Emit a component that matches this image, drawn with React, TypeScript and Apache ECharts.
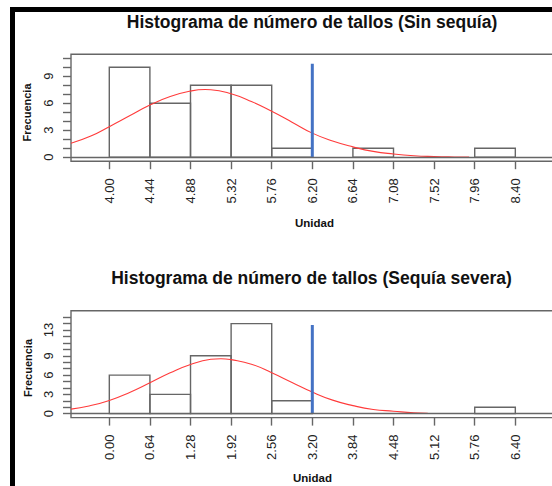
import React, { useEffect, useRef } from "react";
import * as echarts from "echarts";

// Sin sequía
const xTickLabels1 = ["4.00", "4.44", "4.88", "5.32", "5.76", "6.20", "6.64", "7.08", "7.52", "7.96", "8.40"];
const counts1 = [10, 6, 8, 8, 1, 0, 1, 0, 0, 1];
const yTicks1 = [0, 1, 2, 3, 4, 5, 6, 7, 8, 9, 10, 11];
const yTickLabels1 = [0, 3, 6, 9];
const curveX1 = [3.585, 3.8, 4.0, 4.22, 4.44, 4.66, 4.88, 5.04, 5.1, 5.32, 5.54, 5.76, 5.98, 6.2, 6.42, 6.64, 6.86, 7.08, 7.3, 7.52, 7.74, 7.9];
const curveY1 = [1.55, 2.35, 3.4, 4.6, 5.8, 6.75, 7.35, 7.52, 7.5, 7.05, 6.2, 5.1, 3.9, 2.68, 1.8, 1.15, 0.65, 0.36, 0.17, 0.08, 0.03, 0.01];
const markerX1 = 6.2;
const markerTop1 = 10.4;

// Sequía severa
const xTickLabels2 = ["0.00", "0.64", "1.28", "1.92", "2.56", "3.20", "3.84", "4.48", "5.12", "5.76", "6.40"];
const counts2 = [6, 3, 9, 14, 2, 0, 0, 0, 0, 1];
const yTicks2 = [0, 1, 2, 3, 4, 5, 6, 7, 8, 9, 10, 11, 12, 13, 14, 15];
const yTickLabels2 = [0, 3, 6, 9, 13];
const curveX2 = [-0.604, -0.32, 0.0, 0.32, 0.64, 0.96, 1.28, 1.6, 1.76, 1.92, 2.24, 2.56, 2.88, 3.2, 3.52, 3.84, 4.16, 4.48, 4.8, 5.02];
const curveY2 = [0.7, 1.2, 2.05, 3.3, 4.8, 6.35, 7.65, 8.45, 8.55, 8.4, 7.7, 6.35, 4.85, 3.35, 2.1, 1.25, 0.65, 0.38, 0.13, 0.05];
const markerX2 = 3.2;
const markerTop2 = 13.8;

const titles = [
  "Histograma de número de tallos (Sin sequía)",
  "Histograma de número de tallos (Sequía severa)",
];

const FONT = "'Liberation Sans', Arial, sans-serif";
const GRAY = "#666";
const BLUE = "#4472c4";
const RED = "#ff3b3b";

function binRows(labels: string[], counts: number[]) {
  const edges = labels.map((s) => parseFloat(s));
  return counts.map((c, i) => [edges[i], edges[i + 1], c]);
}

function panelSeries(
  idx: number,
  labels: string[],
  counts: number[],
  cx: number[],
  cy: number[],
  mx: number,
  mTop: number
) {
  return [
    {
      type: "custom",
      xAxisIndex: idx,
      yAxisIndex: idx,
      data: binRows(labels, counts),
      encode: { x: [0, 1], y: 2 },
      renderItem: (_params: any, api: any) => {
        const c = api.value(2);
        if (!c) return null;
        const p0 = api.coord([api.value(0), c]);
        const p1 = api.coord([api.value(1), 0]);
        return {
          type: "rect",
          shape: { x: p0[0], y: p0[1], width: p1[0] - p0[0], height: p1[1] - p0[1] },
          style: { fill: "none", stroke: GRAY, lineWidth: 1.4 },
        };
      },
    },
    {
      type: "line",
      xAxisIndex: idx,
      yAxisIndex: idx,
      data: cx.map((x, i) => [x, cy[i]]),
      smooth: true,
      symbol: "none",
      lineStyle: { color: RED, width: 1.1 },
      markLine: {
        silent: true,
        symbol: "none",
        label: { show: false },
        data: [{ yAxis: 0 }],
        lineStyle: { color: GRAY, width: 1.4, type: "solid" },
      },
      z: 3,
    },
    {
      type: "line",
      xAxisIndex: idx,
      yAxisIndex: idx,
      data: [
        [mx, 0],
        [mx, mTop],
      ],
      symbol: "none",
      lineStyle: { color: BLUE, width: 3 },
      z: 4,
    },
  ];
}

export default function App() {
  const ref = useRef<HTMLDivElement>(null);

  useEffect(() => {
    document.body.style.margin = "0";
    if (!ref.current) return;
    const chart = echarts.init(ref.current, undefined, { renderer: "svg" });

    const tickStyle = { color: GRAY, width: 1.4 };
    const labelStyle = { fontSize: 13, color: "#222", fontFamily: FONT };

    const xAxis = (labels: string[], min: number, max: number, gridIndex: number) => {
      const edges = labels.map((s) => parseFloat(s));
      return {
        type: "value",
        gridIndex,
        min,
        max,
        axisLine: { show: false, onZero: false },
        splitLine: { show: false },
        axisTick: { show: true, customValues: edges, length: 8, lineStyle: tickStyle },
        axisLabel: {
          ...labelStyle,
          customValues: edges,
          rotate: 90,
          margin: 17,
          formatter: (v: number) => labels[edges.indexOf(v)] ?? v.toFixed(2),
        },
      };
    };

    const yAxis = (ticks: number[], labels: number[], min: number, max: number, gridIndex: number) => ({
      type: "value",
      gridIndex,
      min,
      max,
      axisLine: { show: false, onZero: false },
      splitLine: { show: false },
      axisTick: { show: true, customValues: ticks, length: 8, lineStyle: tickStyle },
      axisLabel: { ...labelStyle, customValues: labels, rotate: 90, margin: 16 },
    });

    const textEl = (text: string, x: number, y: number, size: number, rotation = 0) => ({
      type: "text",
      x,
      y,
      rotation,
      style: {
        text,
        fill: "#111",
        font: `bold ${size}px ${FONT}`,
        textAlign: "center",
        textVerticalAlign: "middle",
      },
    });

    const gridBase = {
      left: 71,
      width: 490,
      height: 106.9,
      show: true,
      borderColor: GRAY,
      borderWidth: 1.4,
      containLabel: false,
      outerBoundsMode: "none",
    };

    chart.setOption({
      animation: false,
      backgroundColor: "#fff",
      grid: [
        { ...gridBase, top: 54.3 },
        { ...gridBase, top: 310.7 },
      ],
      xAxis: [xAxis(xTickLabels1, 3.585, 8.895, 0), xAxis(xTickLabels2, -0.604, 7.12, 1)],
      yAxis: [yAxis(yTicks1, yTickLabels1, -0.44, 11.44, 0), yAxis(yTicks2, yTickLabels2, -0.616, 16.016, 1)],
      series: [
        ...panelSeries(0, xTickLabels1, counts1, curveX1, curveY1, markerX1, markerTop1),
        ...panelSeries(1, xTickLabels2, counts2, curveX2, curveY2, markerX2, markerTop2),
      ],
      graphic: [
        { type: "rect", shape: { x: 10, y: 7, width: 542, height: 5 }, style: { fill: "#000" } },
        { type: "rect", shape: { x: 10, y: 7, width: 5, height: 479 }, style: { fill: "#000" } },
        textEl(titles[0], 312, 22, 17.5),
        textEl(titles[1], 311.5, 278, 17.5),
        textEl("Unidad", 314.5, 222.5, 11.5),
        textEl("Unidad", 312.5, 478, 11.5),
        textEl("Frecuencia", 26.7, 112.5, 11, Math.PI / 2),
        textEl("Frecuencia", 27.5, 368, 11, Math.PI / 2),
      ],
    });

    return () => chart.dispose();
  }, []);

  return <div ref={ref} style={{ width: 552, height: 486 }} />;
}
